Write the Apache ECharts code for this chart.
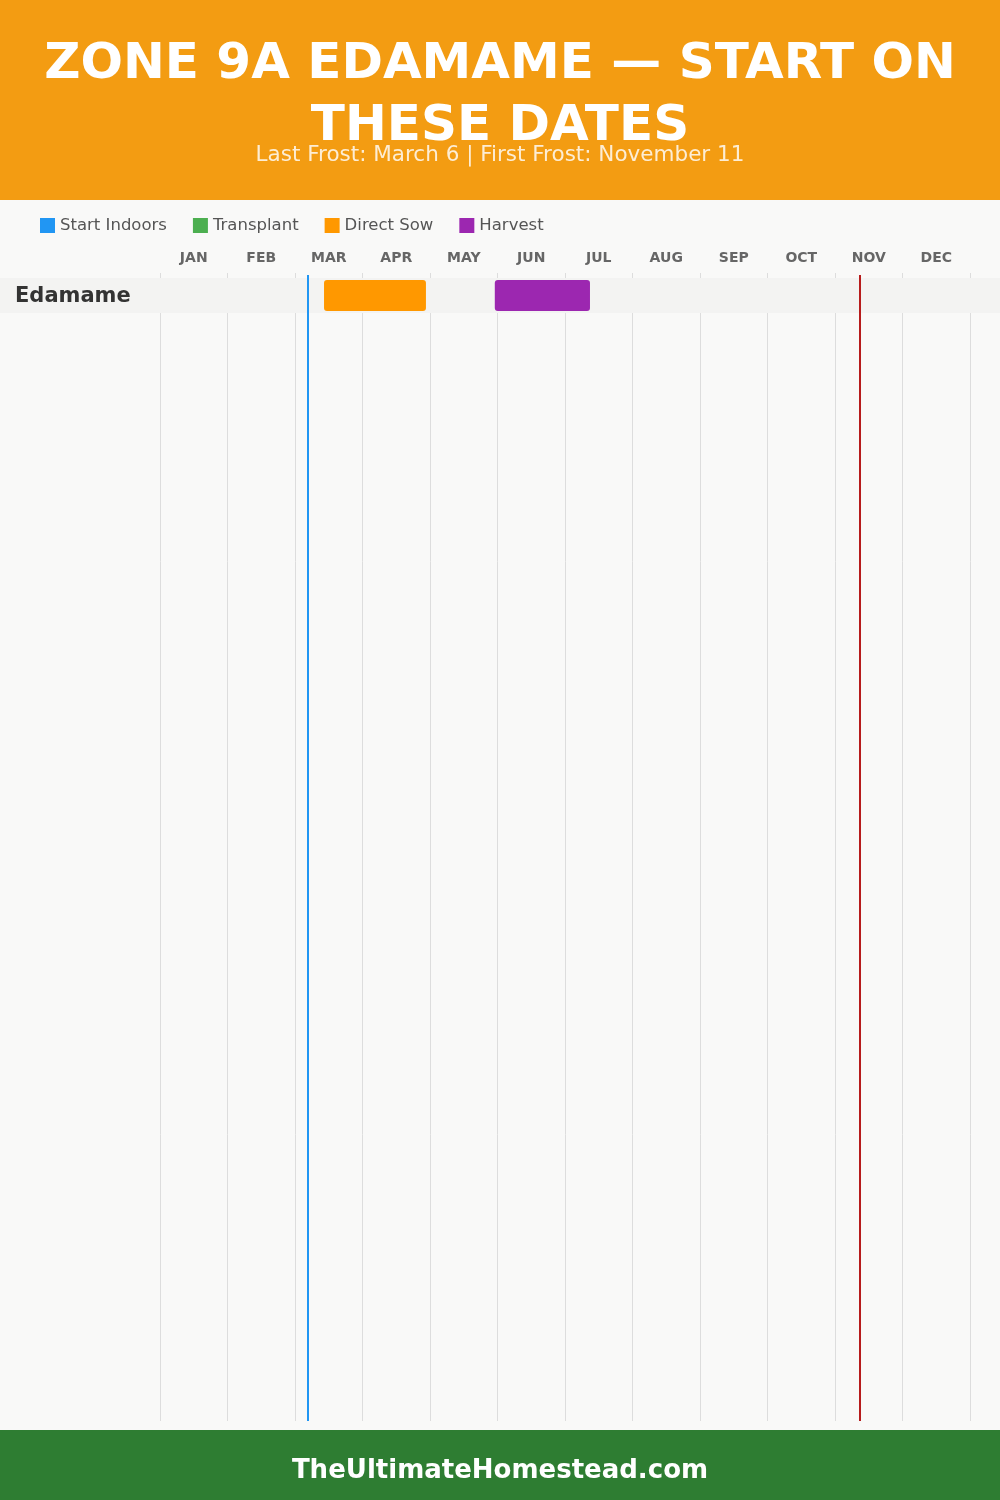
<!DOCTYPE html>
<html><head><meta charset="utf-8">
<script src="https://cdn.jsdelivr.net/npm/echarts@6/dist/echarts.min.js"></script>
<style>html,body{margin:0;padding:0;background:#f9f9f8}#c{width:1000px;height:1500px}</style>
</head><body><div id="c"></div>
<script>
const months = ['JAN','FEB','MAR','APR','MAY','JUN','JUL','AUG','SEP','OCT','NOV','DEC'];
const crops = ['Edamame'];
const phases = ['Start Indoors','Transplant','Direct Sow','Harvest'];
const phaseColors = ['#2196F3','#4CAF50','#FF9800','#9C27B0'];
// values in months from Jan 1 (e.g. 2.43 = mid March)
const startIndoors = [];
const transplant = [];
const directSow = [[0, 2.43, 3.94]];
const harvest = [[0, 4.96, 6.37]];
const lastFrost = 2.194;   // March 6
const firstFrost = 10.367; // November 11
const titleLines = ['ZONE 9A EDAMAME — START ON', 'THESE DATES'];
const subtitle = 'Last Frost: March 6 | First Frost: November 11';
const footer = 'TheUltimateHomestead.com';

const FONT = "'DejaVu Sans', sans-serif";
const chart = echarts.init(document.getElementById('c'));

function barRender(params, api) {
  const s = api.coord([api.value(1), api.value(0)]);
  const e = api.coord([api.value(2), api.value(0) + 1]);
  const top = s[1] + 2, bot = e[1] - 2;
  return {
    type: 'rect',
    shape: { x: s[0], y: top, width: e[0] - s[0], height: bot - top, r: 3 },
    style: { fill: api.visual('color') }
  };
}

const phaseData = [startIndoors, transplant, directSow, harvest];
const series = [{
  type: 'custom',
  name: '_band',
  xAxisIndex: 1,
  clip: false,
  silent: true,
  z: 1,
  data: crops.map((c, i) => [i]),
  renderItem: function (params, api) {
    const r = api.value(0);
    const a = api.coord([0, r]);
    const b = api.coord([0, r + 1]);
    return {
      type: 'group',
      children: [
        { type: 'rect', shape: { x: 0, y: a[1], width: api.getWidth(), height: b[1] - a[1] }, style: { fill: '#f3f3f2' } },
        { type: 'text', style: { text: crops[r], x: 15, y: (a[1] + b[1]) / 2 + 1, textVerticalAlign: 'middle', font: 'bold 21px ' + FONT, fill: '#333' } }
      ]
    };
  }
}];
phases.forEach((p, i) => {
  series.push({
    type: 'custom', name: p, xAxisIndex: 1, z: 3,
    itemStyle: { color: phaseColors[i] },
    data: phaseData[i], renderItem: barRender
  });
});
series.push({
  type: 'line', xAxisIndex: 1, data: [], z: 4,
  markLine: {
    symbol: 'none', silent: true, label: { show: false },
    data: [
      { xAxis: lastFrost, lineStyle: { color: '#2196F3', width: 2, type: 'solid' } },
      { xAxis: firstFrost, lineStyle: { color: '#B71C1C', width: 2, type: 'solid' } }
    ]
  }
});

chart.setOption({
  backgroundColor: '#f9f9f8',
  animation: false,
  graphic: [
    { type: 'rect', shape: { x: 0, y: 0, width: 1000, height: 200 }, style: { fill: '#F39C12' }, z: -10 },
    { type: 'text', x: 500, y: 65, style: { text: titleLines[0], textAlign: 'center', textVerticalAlign: 'middle', font: '900 50px ' + FONT, fill: '#fff' } },
    { type: 'text', x: 500, y: 127, style: { text: titleLines[1], textAlign: 'center', textVerticalAlign: 'middle', font: '900 50px ' + FONT, fill: '#fff' } },
    { type: 'text', x: 500, y: 155, style: { text: subtitle, textAlign: 'center', textVerticalAlign: 'middle', font: '21.5px ' + FONT, fill: 'rgba(255,255,255,0.82)' } },
    { type: 'rect', shape: { x: 0, y: 1430, width: 1000, height: 70 }, style: { fill: '#2E7D32' }, z: -10 },
    { type: 'text', x: 500, y: 1471, style: { text: footer, textAlign: 'center', textVerticalAlign: 'middle', font: 'bold 26px ' + FONT, fill: '#ffffff' } }
  ],
  legend: {
    left: 40, top: 217, padding: 0, icon: 'rect', itemWidth: 15, itemHeight: 15, itemGap: 26,
    textStyle: { color: '#555', fontSize: 16.5, fontFamily: FONT, padding: [0, 0, 0, 0] },
    data: phases.map((p, i) => ({ name: p, itemStyle: { color: phaseColors[i] } })),
    selectedMode: false
  },
  grid: { left: 160, right: 30, top: 275, bottom: 79 },
  xAxis: [
    {
      type: 'category', position: 'top', data: months, boundaryGap: true,
      axisLine: { show: false },
      axisTick: { show: true, inside: false, length: 5, lineStyle: { color: '#ddd' } },
      axisLabel: { color: '#666', fontSize: 14, fontWeight: 'bold', fontFamily: FONT, margin: 10 },
      splitLine: { show: true, interval: 0, lineStyle: { color: '#ddd', width: 1 } }
    },
    { type: 'value', min: 0, max: 12, show: false }
  ],
  yAxis: { type: 'value', inverse: true, min: -3 / 35, max: 1146 / 35, show: false },
  series: series
});
</script></body></html>
